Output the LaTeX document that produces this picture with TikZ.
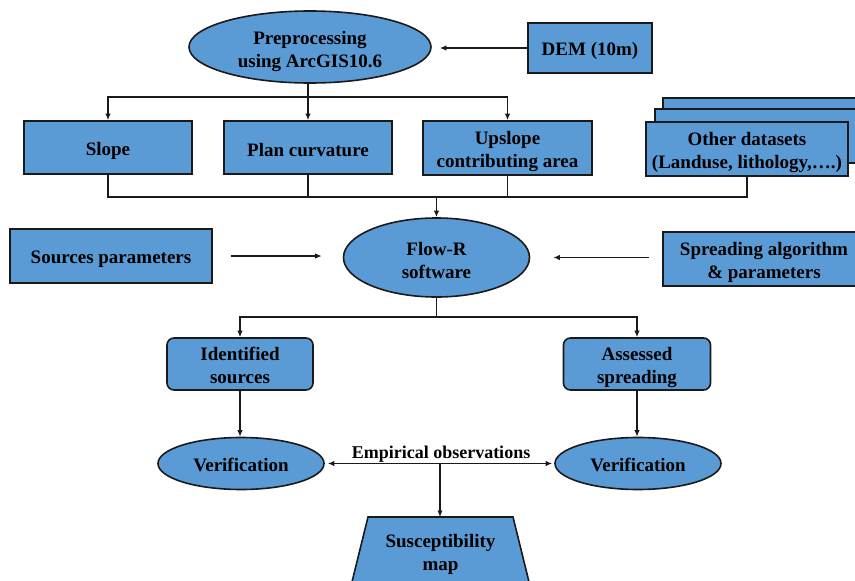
\documentclass[tikz,border=0pt]{standalone}
\usepackage{fontspec}
\setmainfont{Liberation Serif}
\usetikzlibrary{shapes.geometric,arrows.meta}
\definecolor{boxblue}{HTML}{5B9BD5}
\definecolor{edge}{HTML}{1A1A1A}
\begin{document}
\begin{tikzpicture}[x=1pt,y=-1pt,
  base/.style={draw=edge,line width=1.6pt,fill=boxblue,inner sep=0pt},
  lbl/.style={font=\fontsize{19}{23}\selectfont\bfseries,text=black,align=center,inner sep=0pt},
  t/.style={label={[lbl,yshift=-3pt]center:{#1}}},
  rbox/.style={base,rectangle},
  rrbox/.style={base,rectangle,rounded corners=7pt},
  ebox/.style={base,ellipse},
  wire/.style={draw=edge,line width=1.5pt},
  arr/.style={wire,-{Latex[length=6.5pt,width=5.5pt]}},
  dbl/.style={wire,{Latex[length=6.5pt,width=5.5pt]}-{Latex[length=6.5pt,width=5.5pt]}}]
\useasboundingbox (0,0) rectangle (855,581);
\clip (0,0) rectangle (855,581);
\fill[white] (0,0) rectangle (855,581);
% top
\node[ebox,minimum width=242pt,minimum height=72pt,label={[lbl,yshift=-5pt]center:{Preprocessing\\using ArcGIS10.6}}] (pre) at (310,47) {};
\node[rbox,minimum width=124pt,minimum height=50pt,t={DEM (10m)}] (dem) at (590,48) {};
\node[rbox,minimum width=168pt,minimum height=53pt,t={Slope}] (slope) at (108,147.5) {};
\node[rbox,minimum width=168pt,minimum height=53pt,t={Plan curvature}] (plan) at (308,147.5) {};
\node[rbox,minimum width=169pt,minimum height=54pt,label={[lbl,yshift=-4pt]center:{Upslope\\contributing area}}] (ups) at (507.5,148) {};
\node[rbox,minimum width=202pt,minimum height=54pt] (oth3) at (764,125) {};
\node[rbox,minimum width=202pt,minimum height=54pt] (oth2) at (756,136) {};
\node[rbox,minimum width=202pt,minimum height=54pt,label={[lbl,yshift=-4pt]center:{Other datasets\\(Landuse, lithology,\dots.)}}] (other) at (747,149) {};
% middle
\node[ebox,minimum width=186pt,minimum height=79pt,t={Flow-R\\software}] (flow) at (436.5,257.5) {};
\node[rbox,minimum width=202pt,minimum height=54pt,t={Sources parameters}] (src) at (111,256) {};
\node[rbox,minimum width=202pt,minimum height=54pt,t={Spreading algorithm\\\& parameters}] (spr) at (764,259) {};
\node[rrbox,minimum width=146pt,minimum height=52pt,label={[lbl,yshift=-1.5pt]center:{Identified\\sources}}] (ids) at (240,364) {};
\node[rrbox,minimum width=147pt,minimum height=52pt,label={[lbl,yshift=-4pt]center:{Assessed\\spreading}}] (ass) at (637,364) {};
\node[ebox,minimum width=166pt,minimum height=52pt,label={[lbl,yshift=-1pt]center:{Verification}}] (ver1) at (241,463.5) {};
\node[ebox,minimum width=166pt,minimum height=52pt,label={[lbl,yshift=-1pt]center:{Verification}}] (ver2) at (638,463.5) {};
\node[lbl,font=\fontsize{18}{22}\selectfont\bfseries] (emp) at (441,454.5) {Empirical observations};
% susceptibility trapezoid
\path[base] (368,517) -- (513,517) -- (531,590) -- (350,590) -- cycle;
\node[lbl] (sus) at (440.5,554.5) {Susceptibility\\map};
\coordinate (sustop) at (440.5,517);
% buses
\coordinate (bus1) at (0,97);
\coordinate (bus2) at (0,197);
\coordinate (bus3) at (0,317);
\coordinate (ej) at (440,463.5);
% connectors
\draw[arr,shorten >=8pt] (dem.west) -- (pre.east |- dem.west);
\draw[arr] (pre.south -| plan.north) -- (plan.north);
\draw[arr] (plan.north |- bus1) -| (slope.north);
\draw[arr] (plan.north |- bus1) -| (ups.north);
\draw[wire] (slope.south) |- (other.south |- bus2) -- (other.south);
\draw[wire] (plan.south) -- (plan.south |- bus2);
\draw[wire] (ups.south) -- (ups.south |- bus2);
\draw[arr] (flow.north |- bus2) -- (flow.north);
\draw[arr,shorten <=18pt,shorten >=21pt] (src.east) -- (flow.west |- src.east);
\draw[arr,shorten <=13pt,shorten >=23pt] (spr.west |- flow.east) -- (flow.east);
\draw[wire] (flow.south) -- (flow.south |- bus3);
\draw[arr] (flow.south |- bus3) -| (ids.north);
\draw[arr] (flow.south |- bus3) -| (ass.north);
\draw[arr] (ids.south) -- (ids.south |- ver1.north);
\draw[arr] (ass.south) -- (ass.south |- ver2.north);
\draw[dbl,shorten <=3pt,shorten >=2pt] (ver1.east) -- (ver2.west);
\draw[arr] (ej) -- (ej |- sustop);
\end{tikzpicture}
\end{document}
